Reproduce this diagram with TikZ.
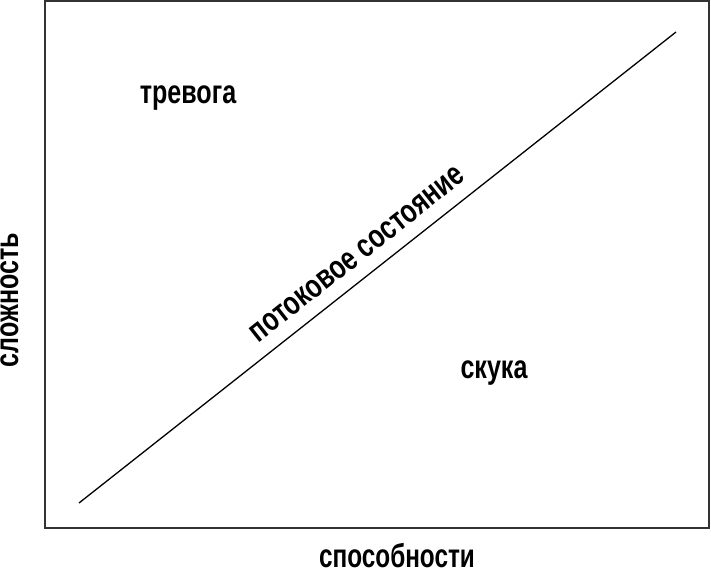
\documentclass[tikz,border=0pt]{standalone}
\usepackage{fontspec}
\setmainfont[FakeStretch=0.76]{Liberation Sans}
\usetikzlibrary{positioning}

\begin{document}
\begin{tikzpicture}[x=1pt,y=-1pt,
    word/.style={font=\fontsize{33}{36}\selectfont\bfseries,inner sep=0pt,anchor=base}]

   \useasboundingbox (0,0) rectangle (711,569);
   \draw[line width=1.8pt,black!80] (45,1) rectangle (709,528);

   \coordinate (lo) at (79,503);
   \coordinate (hi) at (676,32);
   \draw[line width=1.3pt] (lo) -- node[word,sloped,above=13pt,pos=0.49] (flow) {потоковое состояние} (hi);

   \node[word] (anx) at (188,104) {тревога};
   \node[word] (bore) at (494,378) {скука};
   \node[word,xscale=0.97] (skill) at (397,567) {способности};
   \node[word,rotate=90] (chal) at (18,300) {сложность};
\end{tikzpicture}
\end{document}
